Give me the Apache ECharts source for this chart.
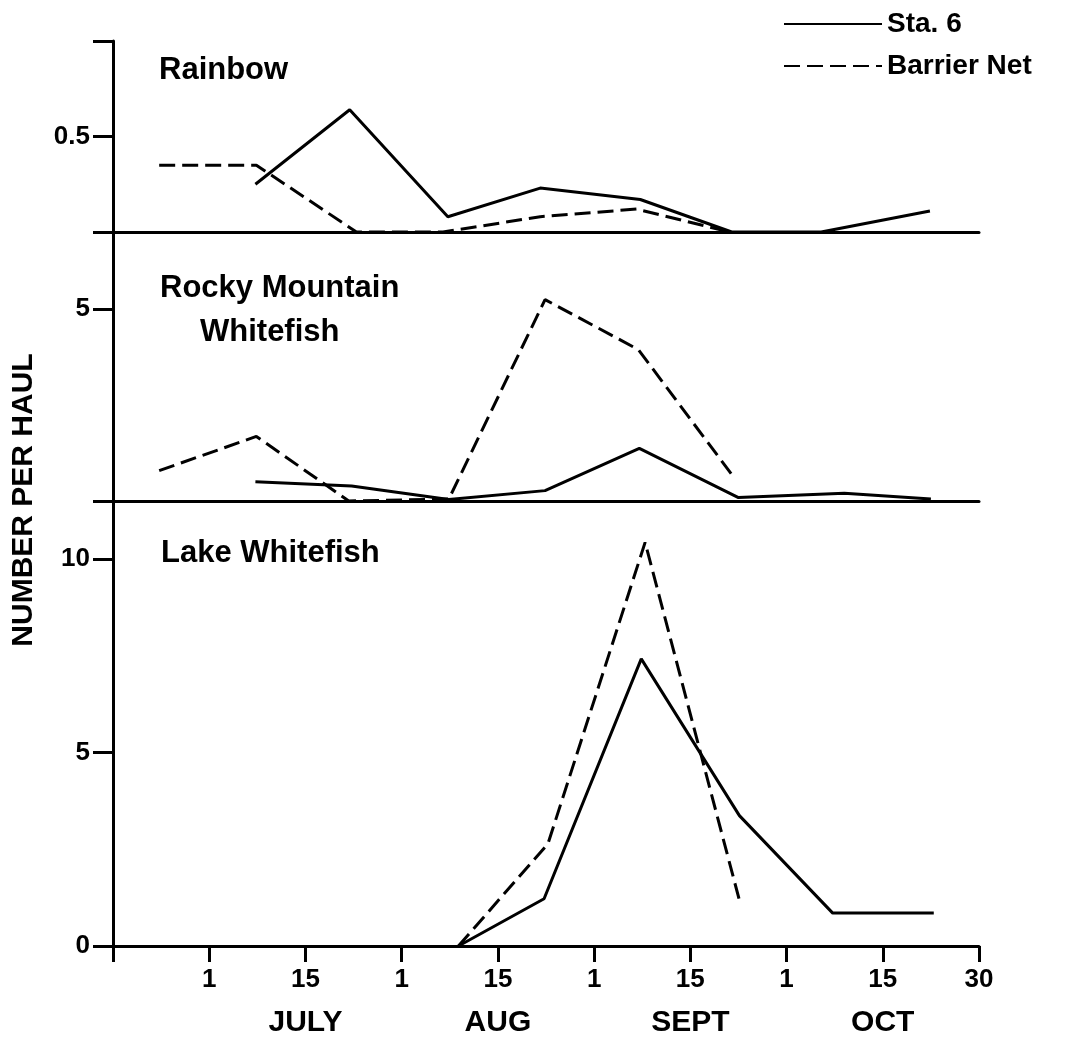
<!DOCTYPE html>
<html>
<head>
<meta charset="utf-8">
<title>Number per haul</title>
<script src="https://cdn.jsdelivr.net/npm/echarts@6/dist/echarts.min.js"></script>
<style>
  html, body { margin: 0; padding: 0; background: #fff; }
  #chart { width: 1067px; height: 1038px; }
</style>
</head>
<body>
<div id="chart"></div>
<script>
// Horizontal axis: half-month steps from mid-June (0) to 30 Oct (9)
const tickLabels  = ['', '1', '15', '1', '15', '1', '15', '1', '15', '30'];
const monthLabels = ['', '', 'JULY', '', 'AUG', '', 'SEPT', '', 'OCT', ''];

// Rainbow
const rainbowSta6X    = [1.48, 2.46, 3.48, 4.44, 5.48, 6.43, 7.36, 8.49];
const rainbowSta6     = [0.25, 0.64, 0.08, 0.23, 0.17, 0.00, 0.00, 0.11];
const rainbowBarrierX = [0.48, 1.49, 2.53, 3.43, 4.44, 5.44, 6.41];
const rainbowBarrier  = [0.35, 0.35, 0.00, 0.00, 0.08, 0.12, 0.00];

// Rocky Mountain Whitefish
const rmwSta6X    = [1.48, 2.48, 3.49, 4.49, 5.47, 6.50, 7.60, 8.50];
const rmwSta6     = [0.50, 0.39, 0.04, 0.27, 1.37, 0.09, 0.20, 0.05];
const rmwBarrierX = [0.48, 1.49, 2.45, 3.49, 4.49, 5.46, 6.46];
const rmwBarrier  = [0.79, 1.68, 0.00, 0.05, 5.24, 3.94, 0.59];

// Lake Whitefish
const lwSta6X    = [3.59, 4.48, 5.49, 6.51, 7.48, 8.53];
const lwSta6     = [0.00, 1.22, 7.42, 3.37, 0.85, 0.85];
const lwBarrierX = [3.59, 4.52, 5.53, 6.51];
const lwBarrier  = [0.00, 2.64, 10.43, 1.18];

const FONT = '"Liberation Sans", Arial, Helvetica, sans-serif';
const INK = '#000';

const pairs = (xs, ys) => xs.map((x, i) => [x, ys[i]]);

const gridLeft = 113, gridRight = 88;
const grids = [
  { left: gridLeft, right: gridRight, top: 41,  height: 191 },
  { left: gridLeft, right: gridRight, top: 232, height: 269 },
  { left: gridLeft, right: gridRight, top: 501, height: 445 }
];

const axisLine = { show: true, onZero: false, lineStyle: { color: INK, width: 3 } };

function xAxisFor(gridIndex, withLabels) {
  return {
    type: 'value', gridIndex, min: 0, max: 9, interval: 1,
    axisLine,
    splitLine: { show: false },
    axisTick: { show: withLabels, inside: false, length: 16, lineStyle: { color: INK, width: 3 } },
    axisLabel: {
      show: withLabels, margin: 21, color: INK,
      fontFamily: FONT, fontWeight: 'bold', fontSize: 26,
      formatter: v => tickLabels[Math.round(v)] || ''
    }
  };
}

function yAxisFor(gridIndex, max, interval, shown) {
  return {
    type: 'value', gridIndex, min: 0, max, interval,
    axisLine,
    splitLine: { show: false },
    axisTick: { show: true, length: 20, lineStyle: { color: INK, width: 3 } },
    axisLabel: {
      margin: 23, color: INK,
      fontFamily: FONT, fontWeight: 'bold', fontSize: 26,
      formatter: v => (shown.indexOf(v) >= 0 ? String(v) : '')
    }
  };
}

const solid = { color: INK, width: 3, type: 'solid' };
const dashed = { color: INK, width: 3, type: [16, 7] };

function lineSeries(name, idx, data, style) {
  return {
    name, type: 'line', xAxisIndex: idx, yAxisIndex: idx,
    data, showSymbol: false, symbol: 'none', symbolSize: 0, clip: false,
    lineStyle: style, itemStyle: { color: INK }, z: 5,
    animation: false
  };
}

const titleStyle = { color: INK, fontFamily: FONT, fontWeight: 'bold', fontSize: 31 };

const option = {
  backgroundColor: '#fff',
  animation: false,
  textStyle: { fontFamily: FONT },
  title: [
    { text: 'Rainbow', left: 159, top: 55, padding: 0, textStyle: titleStyle },
    { text: 'Rocky Mountain', left: 160, top: 273, padding: 0, textStyle: titleStyle },
    { text: 'Whitefish', left: 200, top: 317, padding: 0, textStyle: titleStyle },
    { text: 'Lake Whitefish', left: 161, top: 538, padding: 0, textStyle: titleStyle }
  ],
  legend: {
    data: ['Sta. 6', 'Barrier Net'],
    orient: 'vertical', left: 783, top: 10, padding: 0,
    itemWidth: 98, itemHeight: 14, itemGap: 14,
    itemStyle: { opacity: 0 },
    textStyle: { color: INK, fontFamily: FONT, fontWeight: 'bold', fontSize: 28 },
    selectedMode: false
  },
  grid: grids,
  xAxis: [
    xAxisFor(0, false),
    xAxisFor(1, false),
    xAxisFor(2, true),
    {
      type: 'value', gridIndex: 2, min: 0, max: 9, interval: 1,
      position: 'bottom', offset: 42,
      axisLine: { show: false }, axisTick: { show: false }, splitLine: { show: false },
      axisLabel: {
        margin: 20, color: INK,
        fontFamily: FONT, fontWeight: 'bold', fontSize: 30,
        formatter: v => monthLabels[Math.round(v)] || ''
      }
    }
  ],
  yAxis: [
    yAxisFor(0, 1, 0.5, [0.5]),
    yAxisFor(1, 7, 5, [5]),
    yAxisFor(2, 11.5, 5, [0, 5, 10])
  ],
  graphic: [
    {
      type: 'text', x: 24, y: 500, rotation: Math.PI / 2,
      style: {
        text: 'NUMBER PER HAUL', fill: INK,
        font: 'bold 30px ' + FONT,
        align: 'center', verticalAlign: 'middle'
      }
    }
  ],
  series: [
    lineSeries('Sta. 6', 0, pairs(rainbowSta6X, rainbowSta6), solid),
    lineSeries('Barrier Net', 0, pairs(rainbowBarrierX, rainbowBarrier), dashed),
    lineSeries('Sta. 6', 1, pairs(rmwSta6X, rmwSta6), solid),
    lineSeries('Barrier Net', 1, pairs(rmwBarrierX, rmwBarrier), dashed),
    lineSeries('Sta. 6', 2, pairs(lwSta6X, lwSta6), solid),
    lineSeries('Barrier Net', 2, pairs(lwBarrierX, lwBarrier), dashed)
  ]
};

const chart = echarts.init(document.getElementById('chart'), null, { renderer: 'canvas' });
chart.setOption(option);
</script>
</body>
</html>
